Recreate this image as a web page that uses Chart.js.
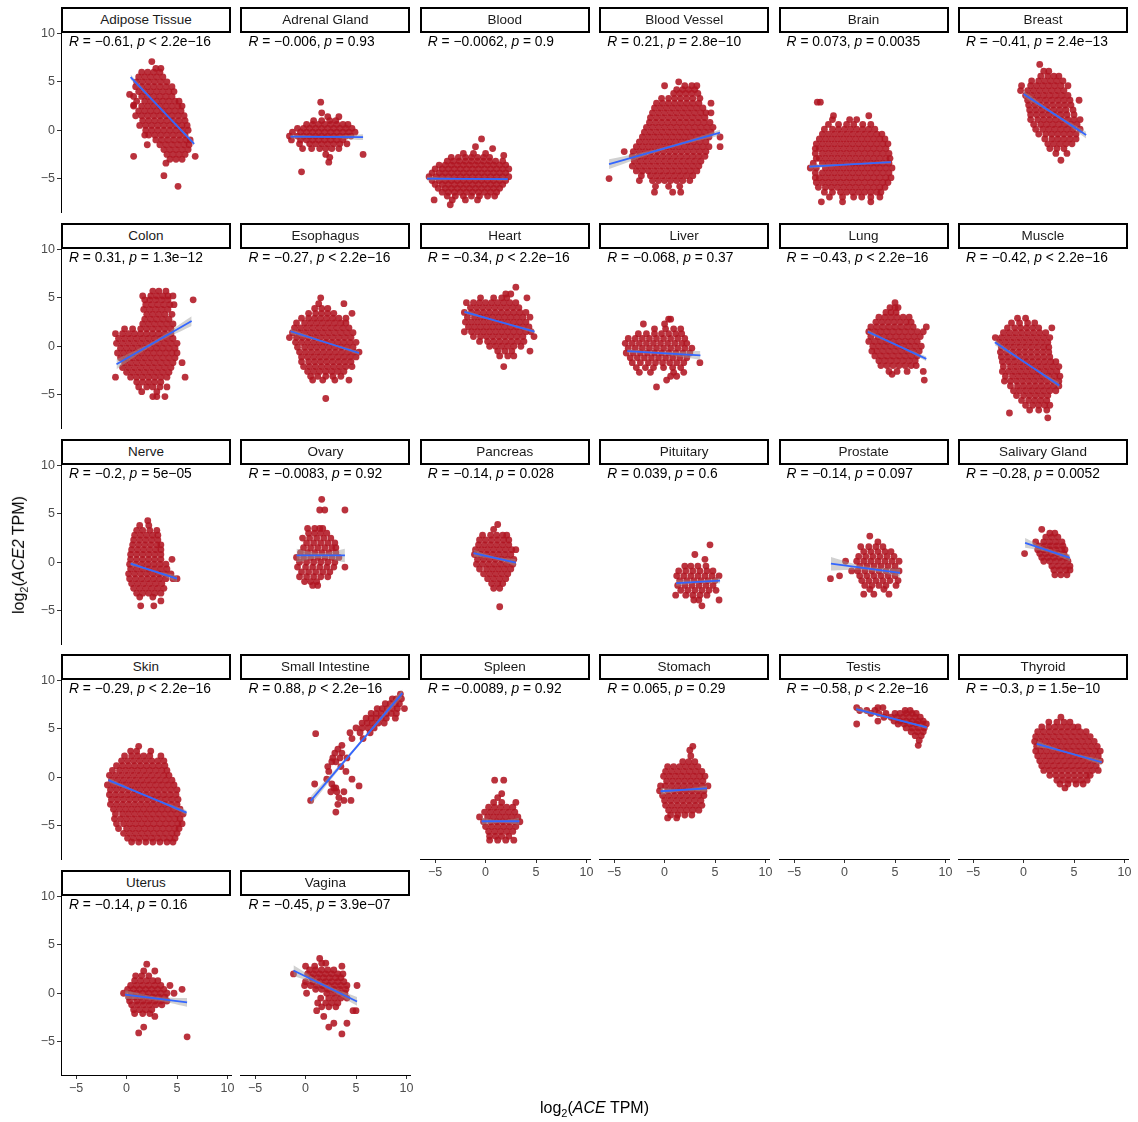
<!DOCTYPE html>
<html>
<head>
<meta charset="utf-8">
<script src="https://cdn.jsdelivr.net/npm/chart.js@4.4.1/dist/chart.umd.min.js"></script>
<style>
  body { margin: 0; background: #fff; font-family: "Liberation Sans", Arial, sans-serif; }
  #wrap { position: relative; width: 1138px; height: 1122px; overflow: hidden; }
  canvas { position: absolute; }
  .strip { position: absolute; box-sizing: border-box; width: 170px; height: 26px; border: 2px solid #000;
           background: #fff; font-size: 13.5px; color: #1a1a1a; text-align: center; line-height: 22px; z-index: 2; }
  .stat { position: absolute; font-size: 13.8px; color: #000; white-space: nowrap; line-height: 16px; z-index: 2; }
  .title { position: absolute; font-size: 16px; color: #000; white-space: nowrap; }
  .title sub { font-size: 11px; }
</style>
</head>
<body>
<div id="wrap"></div>
<script>
// facets, in reading order
const tissues = ['Adipose Tissue', 'Adrenal Gland', 'Blood', 'Blood Vessel', 'Brain', 'Breast',
  'Colon', 'Esophagus', 'Heart', 'Liver', 'Lung', 'Muscle',
  'Nerve', 'Ovary', 'Pancreas', 'Pituitary', 'Prostate', 'Salivary Gland',
  'Skin', 'Small Intestine', 'Spleen', 'Stomach', 'Testis', 'Thyroid',
  'Uterus', 'Vagina'];

const rText = ['−0.61', '−0.006', '−0.0062', '0.21', '0.073', '−0.41',
  '0.31', '−0.27', '−0.34', '−0.068', '−0.43', '−0.42',
  '−0.2', '−0.0083', '−0.14', '0.039', '−0.14', '−0.28',
  '−0.29', '0.88', '−0.0089', '0.065', '−0.58', '−0.3',
  '−0.14', '−0.45'];

const pText = ['< 2.2e−16', '= 0.93', '= 0.9', '= 2.8e−10', '= 0.0035', '= 2.4e−13',
  '= 1.3e−12', '< 2.2e−16', '< 2.2e−16', '= 0.37', '< 2.2e−16', '< 2.2e−16',
  '= 5e−05', '= 0.92', '= 0.028', '= 0.6', '= 0.097', '= 0.0052',
  '< 2.2e−16', '< 2.2e−16', '= 0.92', '= 0.29', '< 2.2e−16', '= 1.5e−10',
  '= 0.16', '= 3.9e−07'];

const xTicks = [-5, 0, 5, 10];
const yTicks = [-5, 0, 5, 10];
const xRange = [-6.5, 10.35];
const yRange = [-8.45, 10.05];

// linear fit ends: x1, y1, x2, y2
const fitLines = [
  [0.4, 5.5, 6.7, -1.4], [-1.5, -0.66, 5.7, -0.72], [-5.8, -5.0, 2.2, -5.05], [-5.5, -3.5, 5.5, -0.24], [-3.5, -3.76, 4.6, -3.3], [0.0, 3.75, 6.2, -0.5],
  [-1.0, -1.87, 6.45, 2.6], [-1.5, 1.55, 5.3, -0.7], [-2.1, 3.55, 4.85, 1.5], [-3.7, -0.5, 3.55, -0.95], [2.3, 1.5, 8.1, -1.3], [-2.85, 0.4, 3.55, -4.05],
  [0.4, -0.15, 5.0, -1.7], [-0.9, 0.7, 3.9, 0.7], [-1.2, 0.95, 3.0, -0.05], [1.15, -2.15, 5.5, -1.9], [-1.35, -0.15, 5.5, -1.1], [0.15, 2.0, 4.6, 0.45],
  [-1.8, -0.3, 5.95, -3.65], [0.5, -2.45, 9.6, 8.7], [-0.4, -4.55, 3.35, -4.55], [-0.4, -1.45, 4.2, -1.15], [1.15, 7.05, 8.15, 5.15], [1.3, 3.45, 7.75, 1.55],
  [-0.15, -0.15, 6.0, -0.95], [-1.2, 2.35, 5.1, -0.85]
];

// confidence band half width at left end, middle, right end
const ciHalf = [
  [0.25, 0.1, 0.2], [0.2, 0.1, 0.3], [0.2, 0.08, 0.15], [0.5, 0.15, 0.3], [0.2, 0.08, 0.15], [0.35, 0.15, 0.35],
  [0.5, 0.2, 0.5], [0.25, 0.1, 0.2], [0.2, 0.08, 0.2], [0.2, 0.15, 0.45], [0.2, 0.1, 0.25], [0.3, 0.1, 0.3],
  [0.2, 0.1, 0.35], [0.7, 0.25, 0.7], [0.35, 0.15, 0.35], [0.3, 0.15, 0.3], [0.7, 0.2, 0.4], [0.5, 0.2, 0.35],
  [0.25, 0.08, 0.25], [0.45, 0.15, 0.4], [0.35, 0.15, 0.35], [0.35, 0.12, 0.3], [0.25, 0.1, 0.15], [0.3, 0.1, 0.3],
  [0.45, 0.2, 0.45], [0.55, 0.2, 0.45]
];

// samples, one row per ACE2 level: [y, x, x, ...]
const adiposePts = [
  [7.1, 2.5], [6.4, 2.9, 3.4], [6.0, 1.5, 2.1, 2.7, 3.3], [5.5, 1.2, 1.8, 2.4, 3.0, 3.6],
  [5.0, 1.0, 1.6, 2.2, 2.8, 3.4, 4.0], [4.5, 0.9, 1.5, 2.1, 2.7, 3.3, 3.9, 4.5], [4.0, 1.2, 1.8, 2.4, 3.0, 3.6, 4.2, 4.7],
  [3.5, 0.7, 1.5, 2.1, 2.7, 3.3, 3.9, 4.5], [3.0, 1.0, 1.8, 2.4, 3.0, 3.6, 4.2, 4.8, 5.2],
  [2.5, 0.7, 1.5, 2.1, 2.7, 3.3, 3.9, 4.5, 5.1, 5.5], [2.0, 1.2, 1.8, 2.4, 3.0, 3.6, 4.2, 4.8, 5.4],
  [1.5, 0.9, 1.5, 2.1, 2.7, 3.3, 3.9, 4.5, 5.1, 5.7], [1.0, 1.6, 2.2, 2.8, 3.4, 4.0, 4.6, 5.2, 5.8],
  [0.5, 1.3, 1.9, 2.5, 3.1, 3.7, 4.3, 4.9, 5.5, 6.0], [0.0, 1.9, 2.5, 3.1, 3.7, 4.3, 4.9, 5.5, 6.1],
  [-0.5, 1.8, 2.2, 2.8, 3.4, 4.0, 4.6, 5.2, 5.8], [-1.0, 2.9, 3.5, 4.1, 4.7, 5.3, 5.9, 6.3],
  [-1.5, 2.05, 3.3, 3.9, 4.5, 5.1, 5.7, 6.2], [-2.0, 3.7, 4.3, 4.9, 5.5, 6.1], [-2.5, 4.0, 4.6, 5.2, 5.8],
  [-3.0, 4.3, 4.9, 5.5], [3.7, 0.3], [2.6, 0.7], [-2.7, 0.7, 6.8], [-3.4, 3.9], [-4.7, 3.7], [-5.8, 5.1]
];
const adrenalPts = [
  [2.9, 1.5], [1.8, 1.6], [1.4, 2.2, 3.3], [1.0, 0.8, 1.6, 2.4, 3.0],
  [0.6, 0.1, 0.7, 1.3, 1.9, 2.5, 3.1, 3.7, 4.2], [0.2, -0.8, -0.2, 0.4, 1.0, 1.6, 2.2, 2.8, 3.4, 4.0, 4.6],
  [-0.2, -1.3, -0.5, 0.1, 0.7, 1.3, 1.9, 2.5, 3.1, 3.7, 4.3, 4.9], [-0.6, -1.6, -0.8, -0.2, 0.4, 1.0, 1.6, 2.2, 2.8, 3.4, 4.0, 4.5],
  [-1.0, -1.4, -0.5, 0.1, 0.7, 1.3, 1.9, 2.5, 3.1, 3.7], [-1.4, -0.6, 0.4, 1.0, 1.6, 2.2, 2.8, 3.4, 4.1],
  [-1.9, -0.3, 0.6, 1.4, 2.0, 2.6, 3.3], [-2.5, 2.0, 5.7], [-2.8, 2.4], [-3.3, 2.3], [-4.3, -0.4]
];
const bloodPts = [
  [-0.9, -0.4], [-1.7, -1.0], [-1.9, 0.7], [-2.4, -2.2, -1.2, 0.0], [-2.6, 1.8],
  [-2.8, -3.4, -2.7, -2.0, -1.4, -0.8, -0.2, 0.4], [-3.2, -3.8, -3.2, -2.6, -2.0, -1.4, -0.8, -0.2, 0.4, 1.0, 1.7],
  [-3.6, -4.6, -4.0, -3.4, -2.8, -2.2, -1.6, -1.0, -0.4, 0.2, 0.8, 1.4, 2.0],
  [-4.0, -5.0, -4.3, -3.7, -3.1, -2.5, -1.9, -1.3, -0.7, -0.1, 0.5, 1.1, 1.7, 2.3],
  [-4.4, -5.3, -4.6, -4.0, -3.4, -2.8, -2.2, -1.6, -1.0, -0.4, 0.2, 0.8, 1.4, 2.0],
  [-4.8, -5.6, -4.9, -4.3, -3.7, -3.1, -2.5, -1.9, -1.3, -0.7, -0.1, 0.5, 1.1, 1.7, 2.3],
  [-5.2, -5.3, -4.6, -4.0, -3.4, -2.8, -2.2, -1.6, -1.0, -0.4, 0.2, 0.8, 1.4, 2.0],
  [-5.6, -5.0, -4.3, -3.7, -3.1, -2.5, -1.9, -1.3, -0.7, -0.1, 0.5, 1.1, 1.7],
  [-6.0, -4.7, -4.0, -3.4, -2.8, -2.2, -1.6, -1.0, -0.4, 0.2, 0.8, 1.4],
  [-6.4, -4.3, -3.7, -3.1, -2.5, -1.9, -1.3, -0.7, -0.1, 0.5, 1.1],
  [-6.8, -3.8, -3.0, -2.2, -1.4, -0.6, 0.2, 0.9], [-7.2, -5.1, -3.3, -2.0, -0.8], [-7.7, -3.5]
];
const vesselPts = [
  [5.0, 1.4], [4.6, 0.0, 2.0, 2.7, 3.2], [4.2, 1.2, 1.8, 2.4, 3.0], [3.8, 0.9, 1.5, 2.1, 2.7, 3.3],
  [3.3, -0.3, 0.4, 1.0, 1.6, 2.2, 2.8, 3.5], [2.8, -0.8, -0.2, 0.4, 1.0, 1.6, 2.2, 2.8, 3.4, 4.6],
  [2.3, -1.0, -0.4, 0.2, 0.8, 1.4, 2.0, 2.6, 3.2, 3.8], [1.8, -1.2, -0.6, 0.0, 0.6, 1.2, 1.8, 2.4, 3.0, 3.6, 4.1, 4.6],
  [1.3, -1.4, -0.8, -0.2, 0.4, 1.0, 1.6, 2.2, 2.8, 3.4, 4.0], [0.8, -1.5, -0.9, -0.3, 0.3, 0.9, 1.5, 2.1, 2.7, 3.3, 3.9, 4.5],
  [0.3, -1.8, -1.2, -0.6, 0.0, 0.6, 1.2, 1.8, 2.4, 3.0, 3.6, 4.2, 4.8],
  [-0.2, -2.0, -1.4, -0.8, -0.2, 0.4, 1.0, 1.6, 2.2, 2.8, 3.4, 4.0, 4.6],
  [-0.7, -2.2, -1.6, -1.0, -0.4, 0.2, 0.8, 1.4, 2.0, 2.6, 3.2, 3.8, 4.4, 5.5],
  [-1.2, -2.5, -1.9, -1.3, -0.7, -0.1, 0.5, 1.1, 1.7, 2.3, 2.9, 3.5, 4.1],
  [-1.7, -2.8, -2.2, -1.6, -1.0, -0.4, 0.2, 0.8, 1.4, 2.0, 2.6, 3.2, 3.8, 4.4, 5.5],
  [-2.2, -4.0, -3.1, -2.5, -1.9, -1.3, -0.7, -0.1, 0.5, 1.1, 1.7, 2.3, 2.9, 3.5, 4.1],
  [-2.7, -3.2, -2.6, -2.0, -1.4, -0.8, -0.2, 0.4, 1.0, 1.6, 2.2, 2.8, 3.4, 4.0],
  [-3.2, -3.0, -2.4, -1.8, -1.2, -0.6, 0.0, 0.6, 1.2, 1.8, 2.4, 3.0, 3.6],
  [-3.7, -3.2, -2.6, -2.0, -1.4, -0.8, -0.2, 0.4, 1.0, 1.6, 2.2, 2.8, 3.4],
  [-4.2, -2.8, -2.2, -1.6, -1.0, -0.4, 0.2, 0.8, 1.4, 2.0, 2.6, 3.2],
  [-4.7, -2.3, -1.4, -0.8, -0.2, 0.4, 1.0, 1.6, 2.2, 2.8], [-5.2, -2.5, -1.2, -0.6, 0.0, 0.6, 1.2, 1.8, 2.5],
  [-5.0, -5.5], [-5.8, -0.9, 0.4, 1.5], [-6.4, -1.0, 0.8, 1.6]
];
const brainPts = [
  [2.9, -2.7, -2.4], [1.5, -1.1, 2.4], [1.1, -1.2, 0.5, 1.2], [0.6, -1.6, -0.6, 0.2, 0.9, 1.8, 2.6],
  [0.1, -2.0, -1.2, -0.6, 0.0, 0.6, 1.2, 1.8, 2.4, 3.0], [-0.4, -2.2, -1.6, -1.0, -0.4, 0.2, 0.8, 1.4, 2.0, 2.6, 3.2, 3.7],
  [-0.9, -2.5, -1.9, -1.3, -0.7, -0.1, 0.5, 1.1, 1.7, 2.3, 2.9, 3.5, 4.0],
  [-1.4, -2.8, -2.2, -1.6, -1.0, -0.4, 0.2, 0.8, 1.4, 2.0, 2.6, 3.2, 3.8, 4.3],
  [-1.9, -2.9, -2.5, -1.9, -1.3, -0.7, -0.1, 0.5, 1.1, 1.7, 2.3, 2.9, 3.5, 4.1],
  [-2.4, -2.9, -2.2, -1.6, -1.0, -0.4, 0.2, 0.8, 1.4, 2.0, 2.6, 3.2, 3.8, 4.4],
  [-2.9, -2.8, -2.5, -1.9, -1.3, -0.7, -0.1, 0.5, 1.1, 1.7, 2.3, 2.9, 3.5, 4.1, 4.5],
  [-3.4, -3.1, -2.2, -1.6, -1.0, -0.4, 0.2, 0.8, 1.4, 2.0, 2.6, 3.2, 3.8, 4.4],
  [-3.9, -3.4, -2.8, -1.9, -1.3, -0.7, -0.1, 0.5, 1.1, 1.7, 2.3, 2.9, 3.5, 4.1, 4.7],
  [-4.4, -2.9, -2.2, -1.6, -1.0, -0.4, 0.2, 0.8, 1.4, 2.0, 2.6, 3.2, 3.8, 4.4],
  [-4.9, -2.9, -2.5, -1.9, -1.3, -0.7, -0.1, 0.5, 1.1, 1.7, 2.3, 2.9, 3.5, 4.1, 4.6],
  [-5.4, -2.8, -2.2, -1.6, -1.0, -0.4, 0.2, 0.8, 1.4, 2.0, 2.6, 3.2, 3.8, 4.3],
  [-5.9, -2.6, -1.9, -1.3, -0.7, -0.1, 0.5, 1.1, 1.7, 2.3, 2.9, 3.5, 4.0],
  [-6.4, -2.0, -1.2, -0.4, 0.2, 0.8, 1.4, 2.0, 2.6, 3.2, 3.6], [-6.9, -1.5, -0.2, 0.9, 1.7, 2.6, 3.5], [-7.4, -2.3, -0.2, 2.6]
];
const breastPts = [
  [6.8, 1.6], [6.1, 2.0, 2.5], [5.6, 1.7, 2.4, 3.0, 3.5], [5.1, 0.8, 1.5, 2.1, 2.7, 3.3, 3.9],
  [4.6, -0.2, 0.7, 1.3, 1.9, 2.5, 3.1, 3.7, 4.4], [4.1, -0.3, 0.4, 1.0, 1.6, 2.2, 2.8, 3.4, 4.0],
  [3.6, 0.2, 0.8, 1.4, 2.0, 2.6, 3.2, 3.8, 4.4], [3.1, 0.4, 1.0, 1.6, 2.2, 2.8, 3.4, 4.0, 4.6, 5.5],
  [2.6, 0.5, 1.1, 1.7, 2.3, 2.9, 3.5, 4.1, 4.7], [2.1, 0.6, 1.2, 1.8, 2.4, 3.0, 3.6, 4.2, 4.9],
  [1.6, 0.7, 1.3, 1.9, 2.5, 3.1, 3.7, 4.3, 5.0], [1.1, 0.7, 1.4, 2.0, 2.6, 3.2, 3.8, 4.4, 5.0, 5.6],
  [0.6, 1.0, 1.7, 2.3, 2.9, 3.5, 4.1, 4.7, 5.3], [0.1, 1.2, 1.9, 2.5, 3.1, 3.7, 4.3, 4.9, 5.6],
  [-0.4, 1.5, 2.2, 2.8, 3.4, 4.0, 4.6, 5.2], [-0.9, 2.1, 2.8, 3.4, 4.0, 4.6, 5.2],
  [-1.4, 2.4, 3.0, 3.6, 4.2, 4.8], [-1.9, 2.6, 3.3, 4.0], [-2.4, 3.2, 4.3], [-3.1, 3.7]
];
const colonPts = [
  [5.7, 2.6, 3.2, 3.9], [5.2, 1.6, 2.4, 3.0, 3.6, 4.1, 4.6], [4.8, 1.8, 2.3, 2.9, 3.5, 4.1, 6.6],
  [4.3, 1.9, 2.5, 3.1, 3.7, 4.3, 4.7], [3.8, 1.7, 2.3, 2.9, 3.5, 4.1], [3.3, 2.0, 2.6, 3.2, 3.8, 4.5],
  [2.8, 1.8, 2.4, 3.0, 3.6, 4.2], [2.3, 1.6, 2.2, 2.8, 3.4, 4.0, 4.6], [1.8, -0.2, 0.6, 1.4, 2.0, 2.6, 3.2, 3.8, 4.4],
  [1.3, -1.1, -0.4, 0.2, 0.8, 1.4, 2.0, 2.6, 3.2, 3.8, 4.4], [0.8, -0.8, -0.2, 0.4, 1.0, 1.6, 2.2, 2.8, 3.4, 4.0, 4.6],
  [0.3, -1.0, -0.4, 0.2, 0.8, 1.4, 2.0, 2.6, 3.2, 3.8, 4.4, 5.0], [-0.2, -0.6, 0.0, 0.6, 1.2, 1.8, 2.4, 3.0, 3.6, 4.2, 4.8],
  [-0.7, -0.9, -0.3, 0.3, 0.9, 1.5, 2.1, 2.7, 3.3, 3.9, 4.5, 5.0], [-1.2, -0.6, 0.0, 0.6, 1.2, 1.8, 2.4, 3.0, 3.6, 4.2, 4.8],
  [-1.7, -0.2, 0.4, 1.0, 1.6, 2.2, 2.8, 3.4, 4.0, 4.6, 5.5], [-2.2, -0.4, 0.2, 0.8, 1.4, 2.0, 2.6, 3.2, 3.8, 4.4],
  [-2.7, 0.0, 0.6, 1.2, 1.8, 2.4, 3.0, 3.6, 4.2], [-3.2, -1.1, 0.4, 1.0, 1.6, 2.2, 2.8, 3.4, 4.0, 5.8],
  [-3.7, 1.0, 1.6, 2.2, 2.8, 3.4], [-4.2, 1.2, 2.0, 2.6, 3.3, 4.0], [-4.7, 1.5, 3.0], [-5.2, 2.6, 3.0, 3.8]
];
const esophagusPts = [
  [5.0, 1.5], [4.4, 1.3, 3.8], [3.9, 0.9, 1.6, 2.2], [3.4, 0.3, 1.0, 1.6, 2.2, 2.8, 4.6],
  [2.9, -0.4, 0.3, 0.9, 1.5, 2.1, 2.7, 3.3, 4.0], [2.4, -0.9, -0.1, 0.5, 1.1, 1.7, 2.3, 2.9, 3.5, 4.0],
  [1.9, -1.1, -0.5, 0.1, 0.7, 1.3, 1.9, 2.5, 3.1, 3.7, 4.3], [1.4, -1.3, -0.7, -0.1, 0.5, 1.1, 1.7, 2.3, 2.9, 3.5, 4.1, 4.7],
  [0.9, -1.6, -0.9, -0.3, 0.3, 0.9, 1.5, 2.1, 2.7, 3.3, 3.9, 4.5], [0.4, -1.0, -0.4, 0.2, 0.8, 1.4, 2.0, 2.6, 3.2, 3.8, 4.4, 5.0],
  [-0.1, -0.8, -0.1, 0.5, 1.1, 1.7, 2.3, 2.9, 3.5, 4.1, 4.7], [-0.6, -0.6, 0.0, 0.6, 1.2, 1.8, 2.4, 3.0, 3.6, 4.2, 4.8, 5.3],
  [-1.1, -0.4, 0.2, 0.8, 1.4, 2.0, 2.6, 3.2, 3.8, 4.4, 5.0], [-1.6, -0.4, 0.3, 0.9, 1.5, 2.1, 2.7, 3.3, 3.9, 4.5],
  [-2.1, -0.2, 0.4, 1.0, 1.6, 2.2, 2.8, 3.4, 4.0, 4.6], [-2.6, 0.2, 0.8, 1.4, 2.0, 2.6, 3.2, 3.8],
  [-3.1, 0.5, 1.2, 2.0, 2.7, 3.5], [-3.5, 0.7, 1.7, 2.9, 4.3], [-5.4, 2.0]
];
const heartPts = [
  [6.1, 3.0], [5.4, 2.0, 2.5], [5.0, -0.5, 0.8, 1.6, 2.1, 4.1], [4.5, -1.9, -1.2, -0.6, 0.0, 0.6, 1.2, 1.8, 2.4, 3.0],
  [4.0, -1.5, -0.9, -0.3, 0.3, 0.9, 1.5, 2.1, 2.7, 3.3], [3.5, -2.1, -1.4, -0.8, -0.2, 0.4, 1.0, 1.6, 2.2, 2.8, 3.4, 4.0],
  [3.0, -1.8, -1.1, -0.5, 0.1, 0.7, 1.3, 1.9, 2.5, 3.1, 3.7, 4.4], [2.5, -2.0, -1.4, -0.8, -0.2, 0.4, 1.0, 1.6, 2.2, 2.8, 3.4, 4.0],
  [2.0, -1.7, -1.1, -0.5, 0.1, 0.7, 1.3, 1.9, 2.5, 3.1, 3.7, 4.3], [1.5, -2.1, -1.4, -0.8, -0.2, 0.4, 1.0, 1.6, 2.2, 2.8, 3.4, 4.0, 4.5],
  [1.0, -1.2, -0.5, 0.1, 0.7, 1.3, 1.9, 2.5, 3.1, 3.7, 4.8], [0.5, -0.6, 0.2, 0.8, 1.4, 2.0, 2.6, 3.2, 3.8],
  [0.0, 0.4, 1.0, 1.6, 2.2, 2.8, 3.5], [-0.5, 1.2, 1.9, 2.6, 4.4], [-1.0, 1.4, 2.2, 2.8], [-2.1, 1.8]
];
const liverPts = [
  [2.8, 0.4, 0.6], [2.3, -2.1, 0.0], [1.8, -1.0, 0.1, 0.9, 1.6], [1.3, -2.6, -1.8, -1.0, -0.3, 0.4, 1.1, 1.7],
  [0.8, -3.6, -2.9, -2.2, -1.5, -0.8, -0.1, 0.6, 1.3, 2.0], [0.3, -3.9, -3.2, -2.5, -1.8, -1.1, -0.4, 0.3, 1.0, 1.7, 2.2],
  [-0.2, -3.6, -2.9, -2.2, -1.5, -0.8, -0.1, 0.6, 1.3, 2.0, 2.7], [-0.7, -3.8, -3.1, -2.4, -1.7, -1.0, -0.3, 0.4, 1.1, 1.8, 2.5],
  [-1.2, -3.4, -2.7, -2.0, -1.3, -0.6, 0.1, 0.8, 1.5, 2.2], [-1.7, -3.2, -2.4, -1.6, -0.9, -0.2, 0.5, 1.2, 1.9, 3.5],
  [-2.2, -2.8, -1.9, -1.1, -0.1, 0.8, 1.6], [-2.7, -2.5, -1.4, 0.9, 1.9], [-3.1, 0.6, 1.2], [-3.5, 0.2], [-4.2, -0.8]
];
const lungPts = [
  [4.5, 5.0], [4.0, 4.5, 5.0, 5.3], [3.5, 4.1, 4.6, 5.1], [3.0, 3.4, 4.0, 4.6, 5.2, 5.8, 6.4],
  [2.5, 3.1, 3.7, 4.3, 4.9, 5.5, 6.1, 6.6], [2.0, 2.6, 3.2, 3.8, 4.4, 5.0, 5.6, 6.2, 6.8, 8.1],
  [1.5, 2.4, 3.0, 3.6, 4.2, 4.8, 5.4, 6.0, 6.6, 7.2, 7.8], [1.0, 2.6, 3.3, 3.9, 4.5, 5.1, 5.7, 6.3, 6.9, 7.5],
  [0.5, 2.4, 3.0, 3.6, 4.2, 4.8, 5.4, 6.0, 6.6, 7.2], [0.0, 2.8, 3.4, 4.0, 4.6, 5.2, 5.8, 6.4, 7.0, 7.6],
  [-0.5, 2.7, 3.2, 3.8, 4.4, 5.0, 5.6, 6.2, 6.8, 7.4], [-1.0, 3.0, 3.6, 4.2, 4.8, 5.4, 6.0, 6.6, 7.2],
  [-1.5, 3.4, 4.0, 4.6, 5.2, 5.8, 6.4, 7.0], [-2.0, 3.6, 4.2, 4.8, 5.4, 6.0, 6.6, 7.1],
  [-2.6, 4.4, 5.2, 6.2, 7.8], [-2.9, 4.7], [-3.5, 7.9]
];
const musclePts = [
  [2.9, -0.6, 0.2], [2.4, -1.2, -0.4, 0.4, 1.1], [1.9, -1.6, -0.9, -0.3, 0.3, 0.9, 1.5, 2.8],
  [1.4, -2.0, -1.4, -0.8, -0.2, 0.4, 1.0, 1.6, 2.2], [0.9, -2.8, -2.2, -1.6, -1.0, -0.4, 0.2, 0.8, 1.4, 2.0, 2.6],
  [0.4, -2.4, -1.8, -1.2, -0.6, 0.0, 0.6, 1.2, 1.8, 2.4], [-0.1, -2.2, -1.6, -1.0, -0.4, 0.2, 0.8, 1.4, 2.0, 2.5],
  [-0.6, -2.3, -1.7, -1.1, -0.5, 0.1, 0.7, 1.3, 1.9, 2.5], [-1.1, -2.2, -1.6, -1.0, -0.4, 0.2, 0.8, 1.4, 2.0, 2.6],
  [-1.6, -2.1, -1.5, -0.9, -0.3, 0.3, 0.9, 1.5, 2.1, 2.7, 3.2], [-2.1, -2.0, -1.3, -0.7, -0.1, 0.5, 1.1, 1.7, 2.3, 2.9, 3.5],
  [-2.6, -2.1, -1.5, -0.9, -0.3, 0.3, 0.9, 1.5, 2.1, 2.7, 3.3], [-3.1, -1.8, -1.1, -0.5, 0.1, 0.7, 1.3, 1.9, 2.5, 3.1, 3.6],
  [-3.6, -1.9, -1.3, -0.7, -0.1, 0.5, 1.1, 1.7, 2.3, 2.9, 3.5], [-4.1, -1.3, -0.6, 0.0, 0.6, 1.2, 1.8, 2.4, 3.0, 3.5],
  [-4.6, -1.0, -0.4, 0.2, 0.8, 1.4, 2.0, 2.6, 3.2], [-5.1, -0.7, 0.0, 0.6, 1.2, 1.8, 2.4],
  [-5.6, -0.2, 0.5, 1.1, 1.7, 2.3], [-6.1, 0.2, 0.9, 1.5, 2.1, 2.6], [-6.6, 0.6, 1.5, 2.3], [-6.9, -1.4], [-7.4, 2.4]
];
const nervePts = [
  [4.3, 2.1], [3.8, 1.3, 2.2], [3.3, 1.0, 1.6, 2.3, 3.0], [2.8, 0.8, 1.4, 2.0, 2.6, 3.1], [2.3, 0.7, 1.3, 1.9, 2.5, 3.1],
  [1.8, 0.6, 1.2, 1.8, 2.4, 3.0, 3.4], [1.3, 0.5, 1.1, 1.7, 2.3, 2.9, 3.4], [0.8, 0.4, 1.0, 1.6, 2.2, 2.8, 3.4],
  [0.3, 0.4, 1.0, 1.6, 2.2, 2.8, 3.4, 4.5], [-0.2, 0.3, 0.9, 1.5, 2.1, 2.7, 3.3, 3.9], [-0.7, 0.4, 1.0, 1.6, 2.2, 2.8, 3.4, 4.0],
  [-1.2, 0.2, 0.8, 1.4, 2.0, 2.6, 3.2, 3.8, 4.4], [-1.7, 0.3, 0.9, 1.5, 2.1, 2.7, 3.3, 3.9, 4.6, 5.0],
  [-2.2, 0.5, 1.1, 1.7, 2.3, 2.9, 3.5], [-2.7, 0.7, 1.3, 1.9, 2.5, 3.1, 3.7], [-3.2, 1.0, 1.6, 2.2, 2.8, 3.4],
  [-3.6, 1.3, 2.6], [-4.0, 3.4], [-4.5, 1.4, 2.7]
];
const ovaryPts = [
  [6.5, 1.6], [5.4, 1.4, 1.9, 3.9], [3.5, 0.2, 0.9, 1.4, 1.7], [3.0, 0.3, 0.9, 1.5, 2.1], [2.5, -0.3, 0.4, 1.1, 1.8, 2.5],
  [2.0, 0.1, 0.8, 1.5, 2.2, 2.9], [1.5, -0.2, 0.5, 1.2, 1.9, 2.6, 3.0], [1.0, -0.5, 0.2, 0.9, 1.6, 2.3, 3.0],
  [0.5, -0.9, -0.2, 0.5, 1.2, 1.9, 2.6, 3.3], [0.0, -0.6, 0.1, 0.8, 1.5, 2.2, 2.9], [-0.5, -0.8, 0.0, 0.7, 1.4, 2.1, 2.8, 3.9],
  [-1.0, -0.4, 0.3, 1.0, 1.7, 2.4], [-1.5, -0.6, 0.1, 0.8, 1.5, 2.2], [-2.0, -0.1, 0.5, 1.1], [-2.4, 0.7, 1.2]
];
const pancreasPts = [
  [3.9, 1.2], [3.4, 0.8], [2.8, -0.3, 0.5, 1.1, 1.7, 2.1], [2.3, -0.6, 0.0, 0.6, 1.2, 1.8, 2.3],
  [1.8, -0.7, -0.1, 0.5, 1.1, 1.7, 2.3], [1.3, -1.0, -0.4, 0.2, 0.8, 1.4, 2.0, 2.6, 3.0],
  [0.8, -1.1, -0.5, 0.1, 0.7, 1.3, 1.9, 2.5], [0.3, -0.8, -0.2, 0.4, 1.0, 1.6, 2.2, 2.8],
  [-0.2, -0.9, -0.3, 0.3, 0.9, 1.5, 2.1, 2.7], [-0.7, -0.6, 0.1, 0.7, 1.3, 1.9, 2.5], [-1.2, -0.2, 0.4, 1.0, 1.6, 2.2],
  [-1.7, 0.2, 0.8, 1.4, 2.0], [-2.2, 0.6, 1.2, 1.7], [-2.7, 0.8, 1.4], [-4.6, 1.4]
];
const pituitaryPts = [
  [1.8, 4.5], [0.8, 3.0], [0.3, 4.0], [-0.4, 2.0, 2.6, 3.3, 4.1], [-0.9, 1.4, 2.1, 2.8, 3.5, 4.2, 4.8],
  [-1.4, 1.2, 1.9, 2.6, 3.3, 4.0, 4.7, 5.4], [-1.9, 1.5, 2.2, 2.9, 3.6, 4.3, 5.0], [-2.4, 1.3, 2.0, 2.7, 3.4, 4.1, 4.8],
  [-2.9, 1.6, 2.3, 3.0, 3.7, 4.4, 5.1], [-3.4, 1.1, 2.1, 2.8, 3.5, 4.2], [-3.9, 2.9, 3.4, 5.4], [-4.5, 3.7]
];
const prostatePts = [
  [2.7, 2.5], [2.1, 3.3], [1.6, 1.6, 2.4, 3.1, 3.8], [1.1, 1.9, 2.6, 3.3, 4.0, 4.6], [0.6, 1.4, 2.1, 2.8, 3.5, 4.2, 4.9],
  [0.1, 0.1, 1.2, 1.9, 2.6, 3.3, 4.0, 4.7, 5.4], [-0.4, 1.5, 2.2, 2.9, 3.6, 4.3, 5.0],
  [-0.9, 0.7, 1.3, 2.0, 2.7, 3.4, 4.1, 4.8, 5.4], [-1.4, -0.5, 1.5, 2.2, 2.9, 3.6, 4.3, 5.0], [-1.7, -1.4],
  [-1.9, 1.7, 2.4, 3.1, 3.8, 4.5, 5.3], [-2.4, 2.0, 2.7, 3.4, 4.1, 5.1], [-2.8, 2.5, 3.9], [-3.3, 1.9, 2.9, 4.4]
];
const salivaryPts = [
  [3.4, 1.8], [3.0, 2.6, 3.1], [2.6, 2.2, 2.8, 3.4], [2.1, 1.2, 2.0, 2.6, 3.2, 3.8], [1.7, 1.5, 2.1, 2.7, 3.3, 3.9],
  [1.3, 1.4, 2.0, 2.6, 3.2, 3.8, 4.1], [0.9, 0.1, 1.6, 2.2, 2.8, 3.4, 4.0], [0.5, 1.8, 2.4, 3.0, 3.6, 4.2],
  [0.1, 2.0, 2.6, 3.2, 3.8, 4.4], [-0.4, 2.8, 3.4, 4.0, 4.6], [-0.8, 3.0, 3.6, 4.2, 4.6], [-1.3, 3.1, 3.7, 4.3]
];
const skinPts = [
  [3.2, 1.2], [2.7, 0.4, 1.0, 2.4], [2.2, -0.2, 0.5, 1.1, 1.7, 2.3, 3.4], [1.7, -0.5, 0.1, 0.7, 1.3, 1.9, 2.5, 3.1, 3.7],
  [1.2, -1.0, -0.4, 0.2, 0.8, 1.4, 2.0, 2.6, 3.2, 3.8], [0.7, -1.4, -0.7, -0.1, 0.5, 1.1, 1.7, 2.3, 2.9, 3.5, 4.0],
  [0.2, -1.7, -1.1, -0.5, 0.1, 0.7, 1.3, 1.9, 2.5, 3.1, 3.7, 4.2], [-0.3, -1.5, -0.9, -0.3, 0.3, 0.9, 1.5, 2.1, 2.7, 3.3, 3.9, 4.5],
  [-0.8, -1.9, -1.3, -0.7, -0.1, 0.5, 1.1, 1.7, 2.3, 2.9, 3.5, 4.1, 4.7],
  [-1.3, -1.6, -1.0, -0.4, 0.2, 0.8, 1.4, 2.0, 2.6, 3.2, 3.8, 4.4, 5.0],
  [-1.8, -1.7, -1.1, -0.5, 0.1, 0.7, 1.3, 1.9, 2.5, 3.1, 3.7, 4.3, 4.9],
  [-2.3, -1.5, -0.9, -0.3, 0.3, 0.9, 1.5, 2.1, 2.7, 3.3, 3.9, 4.5, 5.1],
  [-2.8, -1.6, -1.0, -0.4, 0.2, 0.8, 1.4, 2.0, 2.6, 3.2, 3.8, 4.4, 5.0],
  [-3.3, -1.3, -0.7, -0.1, 0.5, 1.1, 1.7, 2.3, 2.9, 3.5, 4.1, 4.7, 5.3],
  [-3.8, -1.1, -0.4, 0.2, 0.8, 1.4, 2.0, 2.6, 3.2, 3.8, 4.4, 5.0, 5.6],
  [-4.3, -1.2, -0.6, 0.0, 0.6, 1.2, 1.8, 2.4, 3.0, 3.6, 4.2, 4.8, 5.3],
  [-4.8, -1.0, -0.3, 0.3, 0.9, 1.5, 2.1, 2.7, 3.3, 3.9, 4.5, 5.1, 5.5],
  [-5.3, -0.8, 0.0, 0.6, 1.2, 1.8, 2.4, 3.0, 3.6, 4.2, 4.8, 5.2],
  [-5.8, -0.3, 0.3, 0.9, 1.5, 2.1, 2.7, 3.3, 3.9, 4.5, 5.0], [-6.3, 0.1, 0.7, 1.3, 1.9, 2.5, 3.1, 3.7, 4.3, 4.8],
  [-6.7, 0.5, 1.2, 1.9, 2.6, 3.3, 4.0, 4.6]
];
const intestinePts = [
  [8.6, 9.4], [8.1, 8.6, 9.0, 9.5], [7.6, 7.9, 8.4, 8.9, 9.3], [7.1, 7.1, 7.6, 8.1, 8.6, 9.1, 9.8],
  [6.6, 6.5, 7.0, 7.5, 8.0, 8.5, 9.0], [6.1, 6.0, 6.5, 7.0, 7.5, 8.0, 8.9], [5.6, 5.6, 6.1, 6.6, 7.2, 7.8],
  [5.1, 5.0, 5.6, 6.2, 6.8], [4.6, 4.4, 5.4, 6.4], [4.5, 1.0], [4.0, 4.6, 5.7], [3.3, 3.6], [2.9, 3.2],
  [2.5, 2.9, 3.6], [2.0, 2.7, 3.4, 4.1], [1.6, 2.6, 3.0], [1.1, 2.2, 3.5], [0.6, 2.3, 4.0], [-0.2, 2.1, 4.6],
  [-0.7, 0.9, 2.6], [-0.9, 5.3], [-1.1, 2.8, 3.0], [-1.5, 2.5, 3.1, 3.8], [-2.1, 3.3], [-2.4, 0.5, 3.8, 4.5],
  [-2.8, 3.2], [-3.6, 3.0]
];
const spleenPts = [
  [-0.3, 0.9, 1.8], [-1.7, 1.6], [-2.1, 1.2], [-2.6, 0.8, 1.6, 3.0], [-3.1, 0.3, 0.9, 1.5, 2.1, 2.7],
  [-3.6, -0.1, 0.5, 1.1, 1.7, 2.3, 2.9], [-4.1, -0.6, 0.2, 0.8, 1.4, 2.0, 2.6, 3.2], [-4.6, -0.2, 0.5, 1.1, 1.7, 2.3, 2.9, 3.4],
  [-5.1, 0.0, 0.6, 1.2, 1.8, 2.4, 3.0], [-5.6, 0.3, 0.9, 1.5, 2.1, 2.7], [-6.1, 0.4, 1.0, 1.6, 2.3], [-6.5, 0.4, 1.2, 2.0, 2.8]
];
const stomachPts = [
  [3.2, 2.8], [2.8, 2.5], [2.2, 2.6], [1.6, 1.8, 2.4, 3.0], [1.1, 0.3, 0.9, 1.5, 2.1, 2.7, 3.3],
  [0.6, 0.1, 0.7, 1.3, 1.9, 2.5, 3.1, 3.7], [0.1, -0.1, 0.5, 1.1, 1.7, 2.3, 2.9, 3.5, 4.0],
  [-0.4, 0.2, 0.8, 1.4, 2.0, 2.6, 3.2, 3.8], [-0.9, -0.4, 0.1, 0.7, 1.3, 1.9, 2.5, 3.1, 3.7, 4.3],
  [-1.4, -0.5, 0.3, 0.9, 1.5, 2.1, 2.7, 3.3, 3.9], [-1.9, -0.2, 0.4, 1.0, 1.6, 2.2, 2.8, 3.4, 3.9],
  [-2.4, 0.0, 0.6, 1.2, 1.8, 2.4, 3.0, 3.6], [-2.9, 0.1, 0.7, 1.3, 1.9, 2.5, 3.1, 3.7],
  [-3.4, 0.4, 1.0, 1.6, 2.2, 2.8, 3.4], [-3.9, 0.6, 1.3, 2.0, 2.7], [-4.2, 0.3, 1.2]
];
const testisPts = [
  [7.2, 1.2, 3.3, 3.8], [6.9, 1.5, 2.2, 3.0, 6.0, 6.5], [6.6, 2.6, 3.4, 4.1, 5.0, 5.5, 6.1, 6.7, 7.1],
  [6.2, 3.9, 4.6, 5.2, 5.8, 6.4, 7.0, 7.5], [5.8, 3.3, 4.9, 5.5, 6.1, 6.7, 7.3, 7.8], [5.5, 1.2, 5.3, 5.9, 6.5, 7.1, 7.7, 8.1],
  [5.1, 6.1, 6.7, 7.3, 7.9], [4.7, 6.6, 7.2, 7.8], [4.3, 7.0, 7.6], [3.8, 7.4], [3.3, 7.3]
];
const thyroidPts = [
  [6.2, 3.7], [5.7, 2.5, 3.3, 4.0, 4.6], [5.2, 1.8, 2.5, 3.1, 3.7, 4.3, 4.9, 5.4],
  [4.7, 1.4, 2.0, 2.6, 3.2, 3.8, 4.4, 5.0, 5.6, 6.2], [4.2, 1.2, 1.8, 2.4, 3.0, 3.6, 4.2, 4.8, 5.4, 6.0, 6.6],
  [3.7, 1.1, 1.6, 2.2, 2.8, 3.4, 4.0, 4.6, 5.2, 5.8, 6.4, 7.0], [3.2, 1.3, 1.9, 2.5, 3.1, 3.7, 4.3, 4.9, 5.5, 6.1, 6.7, 7.3],
  [2.7, 1.2, 1.7, 2.3, 2.9, 3.5, 4.1, 4.7, 5.3, 5.9, 6.5, 7.1, 7.6], [2.2, 1.4, 2.0, 2.6, 3.2, 3.8, 4.4, 5.0, 5.6, 6.2, 6.8, 7.4],
  [1.7, 1.6, 2.2, 2.8, 3.4, 4.0, 4.6, 5.2, 5.8, 6.4, 7.0, 7.6], [1.2, 1.8, 2.4, 3.0, 3.6, 4.2, 4.8, 5.4, 6.0, 6.6, 7.2],
  [0.7, 2.0, 2.6, 3.2, 3.8, 4.4, 5.0, 5.6, 6.2, 6.8, 7.4], [0.2, 2.6, 3.2, 3.8, 4.4, 5.0, 5.6, 6.2, 6.6],
  [-0.3, 3.3, 3.9, 4.5, 5.1, 5.7, 6.3], [-0.7, 3.6, 4.4, 5.2, 5.9], [-1.1, 4.1]
];
const uterusPts = [
  [3.0, 2.0], [2.3, 1.7, 2.8], [1.8, 0.9, 1.5, 2.2], [1.3, 0.8, 1.4, 2.0, 2.6, 3.1], [0.8, 0.4, 1.0, 1.6, 2.2, 2.8, 3.4, 4.3],
  [0.4, 0.1, 0.7, 1.3, 1.9, 2.5, 3.1, 3.7, 5.5], [0.0, -0.3, 0.4, 1.0, 1.6, 2.2, 2.8, 3.4, 4.0, 4.7],
  [-0.4, 0.2, 0.8, 1.4, 2.0, 2.6, 3.2, 3.8], [-0.8, 0.3, 1.0, 1.6, 2.2, 2.8, 3.4, 4.0], [-1.2, 0.5, 1.1, 1.7, 2.3, 2.9, 3.5],
  [-1.7, 0.7, 1.3, 1.9, 2.5], [-2.1, 0.8, 1.6, 2.3], [-2.4, 2.8], [-3.5, 1.7], [-4.1, 1.2], [-4.5, 6.0]
];
const vaginaPts = [
  [3.6, 1.4], [3.1, 1.6, 2.0], [2.8, 0.0, 0.9, 3.6], [2.4, 0.4, 1.0, 1.6, 2.2, 2.8], [2.0, -1.2, 0.2, 0.8, 1.4, 2.0, 2.6, 3.2, 3.7],
  [1.6, 0.6, 1.2, 1.8, 2.4, 3.0, 3.5], [1.2, 0.0, 0.7, 1.4, 2.0, 2.6, 3.2, 3.8], [0.8, -0.1, 0.5, 1.1, 1.7, 2.3, 2.9, 3.5, 4.1, 5.1],
  [0.4, 1.0, 1.6, 2.2, 2.8, 3.4, 4.0], [0.0, 0.1, 2.1, 2.7, 3.3, 3.9], [-0.5, 1.5, 2.3, 2.9, 3.5, 4.1], [-1.0, 1.2, 2.0, 2.6, 3.2],
  [-1.4, 1.6, 2.3, 3.0], [-1.8, 1.1, 4.7, 5.0], [-2.4, 1.8], [-3.1, 2.8, 4.1], [-3.5, 2.3], [-4.2, 3.6]
];

const pointRows = [adiposePts, adrenalPts, bloodPts, vesselPts, brainPts, breastPts,
  colonPts, esophagusPts, heartPts, liverPts, lungPts, musclePts,
  nervePts, ovaryPts, pancreasPts, pituitaryPts, prostatePts, salivaryPts,
  skinPts, intestinePts, spleenPts, stomachPts, testisPts, thyroidPts,
  uterusPts, vaginaPts];

// layout (px)
const PW = 170, PH = 179, M = 12, YAXIS_W = 61, XAXIS_H = 26;
const colLeft = c => 61 + 179.4 * c;
const stripTop = r => 7 + 215.75 * r;

const wrap = document.getElementById('wrap');
const fmt = v => (v < 0 ? '\u2212' + Math.abs(v) : String(v));

function toPoints(rows) {
  const out = [];
  rows.forEach(row => {
    for (let i = 1; i < row.length; i++) out.push({ x: row[i], y: row[0] });
  });
  return out;
}

function axisOpts(range, ticks, show, isX) {
  return {
    type: 'linear',
    min: range[0],
    max: range[1],
    display: show,
    afterBuildTicks: s => { s.ticks = ticks.map(v => ({ value: v })); },
    afterFit: s => {
      if (!show) return;
      if (isX) s.height = XAXIS_H; else s.width = YAXIS_W;
    },
    ticks: { font: { family: 'Liberation Sans', size: 12.5 }, color: '#4D4D4D', padding: 2,
             maxRotation: 0, autoSkip: false, callback: fmt },
    grid: { display: true, drawOnChartArea: false, drawTicks: true, tickLength: 4, color: '#333333', lineWidth: 1 },
    border: { display: true, color: '#000000', width: 1 }
  };
}

tissues.forEach((name, i) => {
  const r = Math.floor(i / 6), c = i % 6;
  const hasY = c === 0;
  const hasX = i + 6 >= tissues.length;
  const left = colLeft(c), top = stripTop(r);

  const strip = document.createElement('div');
  strip.className = 'strip';
  strip.style.left = left + 'px';
  strip.style.top = top + 'px';
  strip.textContent = name;
  wrap.appendChild(strip);

  const stat = document.createElement('div');
  stat.className = 'stat';
  stat.style.left = (left + 8) + 'px';
  stat.style.top = (top + 27) + 'px';
  stat.innerHTML = '<i>R</i> = ' + rText[i] + ', <i>p</i> ' + pText[i].replace('<', '&lt;');
  wrap.appendChild(stat);

  const cv = document.createElement('canvas');
  const padL = hasY ? YAXIS_W : M;
  const w = padL + PW + M, h = M + PH + (hasX ? XAXIS_H : 0) + M;
  cv.width = w; cv.height = h;
  cv.style.left = (left - padL) + 'px';
  cv.style.top = (top + 26 - M) + 'px';
  wrap.appendChild(cv);

  const [x1, y1, x2, y2] = fitLines[i];
  const [hl, hm, hr] = ciHalf[i];
  const xm = (x1 + x2) / 2, ym = (y1 + y2) / 2;

  new Chart(cv, {
    type: 'scatter',
    data: {
      datasets: [
        { type: 'line', data: [{ x: x1, y: y1 }, { x: x2, y: y2 }], showLine: true,
          borderColor: '#3366FF', borderWidth: 1.8, pointRadius: 0, order: 0 },
        { type: 'line', data: [{ x: x1, y: y1 + hl }, { x: xm, y: ym + hm }, { x: x2, y: y2 + hr }], showLine: true,
          borderWidth: 0, borderColor: 'rgba(0,0,0,0)', pointRadius: 0, tension: 0.4,
          fill: '+1', backgroundColor: 'rgba(153,153,153,0.45)', order: 1 },
        { type: 'line', data: [{ x: x1, y: y1 - hl }, { x: xm, y: ym - hm }, { x: x2, y: y2 - hr }], showLine: true,
          borderWidth: 0, borderColor: 'rgba(0,0,0,0)', pointRadius: 0, tension: 0.4, fill: false, order: 1 },
        { data: toPoints(pointRows[i]), pointRadius: 3.4, pointHoverRadius: 3.4, borderWidth: 0,
          backgroundColor: 'rgba(176,22,34,0.88)', order: 2 }
      ]
    },
    options: {
      responsive: false,
      animation: false,
      devicePixelRatio: 1,
      events: [],
      layout: { padding: { left: hasY ? 0 : M, right: M, top: M, bottom: M } },
      plugins: { legend: { display: false }, tooltip: { enabled: false } },
      scales: {
        x: axisOpts(xRange, xTicks, hasX, true),
        y: axisOpts(yRange, yTicks, hasY, false)
      }
    }
  });
});

// axis titles
const xt = document.createElement('div');
xt.className = 'title';
xt.style.left = '61px'; xt.style.width = '1067px'; xt.style.textAlign = 'center'; xt.style.top = '1099px';
xt.innerHTML = 'log<sub>2</sub>(<i>ACE</i> TPM)';
wrap.appendChild(xt);

const yt = document.createElement('div');
yt.className = 'title';
yt.style.left = '20px'; yt.style.top = '555px';
yt.style.transform = 'translate(-50%, -50%) rotate(-90deg)';
yt.innerHTML = 'log<sub>2</sub>(<i>ACE2</i> TPM)';
wrap.appendChild(yt);
</script>
</body>
</html>
